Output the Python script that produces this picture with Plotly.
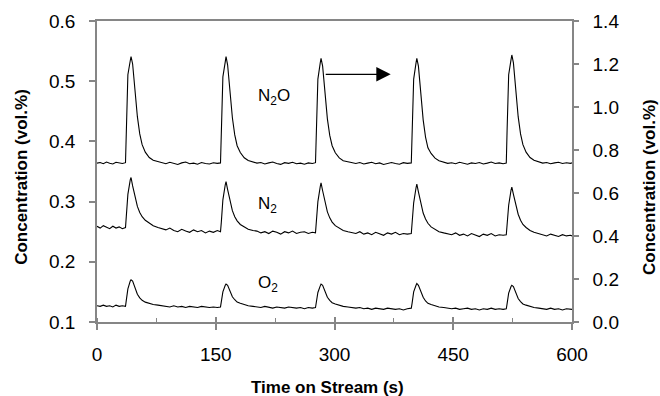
import plotly.graph_objects as go

# ---------------- data ----------------
TIME = [0, 4, 8, 12, 16, 20, 24, 28, 32, 36,
        37, 39, 42, 43, 45, 48, 51, 54, 57, 61, 66, 71, 77,
        82, 87, 92, 97, 102, 107, 112, 117, 122, 127, 132, 137, 142, 147, 152, 156,
        157, 159, 162, 163, 165, 168, 171, 174, 177, 181, 186, 191, 197,
        202, 207, 212, 217, 222, 227, 232, 237, 242, 247, 252, 257, 262, 267, 272, 276,
        277, 279, 282, 283, 285, 288, 291, 294, 297, 301, 306, 311, 317,
        322, 327, 332, 337, 342, 347, 352, 357, 362, 367, 372, 377, 382, 387, 392, 397,
        398, 400, 403, 404, 406, 409, 412, 415, 418, 422, 427, 432, 438,
        443, 448, 453, 458, 463, 468, 473, 478, 483, 488, 493, 498, 503, 508, 513, 517,
        518, 520, 523, 524, 526, 529, 532, 535, 538, 542, 547, 552, 558,
        563, 568, 573, 578, 583, 588, 593, 598, 600]

# N2O, right axis (vol.%)
N2O = [0.739, 0.742, 0.736, 0.744, 0.738, 0.735, 0.743, 0.740, 0.737, 0.741,
       0.90, 1.15, 1.215, 1.234, 1.20, 1.065, 0.955, 0.875, 0.825, 0.790, 0.765, 0.752, 0.745,
       0.741, 0.736, 0.743, 0.738, 0.733, 0.740, 0.744, 0.736, 0.739, 0.734, 0.742, 0.737, 0.735, 0.741, 0.738, 0.740,
       0.89, 1.14, 1.21, 1.234, 1.195, 1.06, 0.95, 0.87, 0.82, 0.788, 0.764, 0.751, 0.744,
       0.739, 0.742, 0.735, 0.740, 0.744, 0.737, 0.733, 0.741, 0.738, 0.743, 0.736, 0.739, 0.734, 0.740, 0.737, 0.741,
       0.88, 1.13, 1.205, 1.226, 1.19, 1.055, 0.945, 0.868, 0.82, 0.787, 0.763, 0.750, 0.744,
       0.740, 0.737, 0.742, 0.735, 0.739, 0.743, 0.736, 0.740, 0.733, 0.738, 0.742, 0.737, 0.734, 0.741, 0.738, 0.740,
       0.88, 1.13, 1.205, 1.226, 1.19, 1.05, 0.94, 0.86, 0.81, 0.784, 0.762, 0.750, 0.744,
       0.738, 0.741, 0.736, 0.743, 0.739, 0.734, 0.740, 0.737, 0.742, 0.735, 0.739, 0.744, 0.737, 0.740, 0.736, 0.739,
       0.89, 1.15, 1.22, 1.242, 1.205, 1.07, 0.955, 0.875, 0.825, 0.790, 0.765, 0.752, 0.745,
       0.739, 0.742, 0.736, 0.740, 0.743, 0.737, 0.741, 0.738, 0.740]

# N2, left axis (vol.%)
N2 = [0.259, 0.256, 0.260, 0.257, 0.255, 0.259, 0.256, 0.258, 0.255, 0.257,
      0.272, 0.312, 0.336, 0.340, 0.326, 0.307, 0.292, 0.282, 0.275, 0.269, 0.264, 0.260, 0.257,
      0.255, 0.253, 0.256, 0.252, 0.250, 0.254, 0.251, 0.249, 0.253, 0.250, 0.252, 0.248, 0.251, 0.249, 0.252, 0.250,
      0.265, 0.303, 0.328, 0.333, 0.320, 0.300, 0.285, 0.275, 0.268, 0.262, 0.258, 0.254, 0.252,
      0.251, 0.248, 0.250, 0.247, 0.251, 0.249, 0.246, 0.250, 0.248, 0.251, 0.247, 0.249, 0.250, 0.247, 0.249, 0.248,
      0.263, 0.300, 0.325, 0.331, 0.318, 0.298, 0.283, 0.273, 0.266, 0.260, 0.256, 0.252, 0.250,
      0.249, 0.247, 0.250, 0.246, 0.248, 0.245, 0.249, 0.247, 0.244, 0.248, 0.246, 0.249, 0.245, 0.247, 0.246, 0.247,
      0.261, 0.298, 0.323, 0.329, 0.316, 0.296, 0.281, 0.271, 0.264, 0.258, 0.254, 0.250, 0.248,
      0.247, 0.245, 0.248, 0.244, 0.246, 0.243, 0.247, 0.245, 0.242, 0.246, 0.244, 0.247, 0.243, 0.245, 0.244, 0.245,
      0.259, 0.294, 0.319, 0.324, 0.312, 0.293, 0.279, 0.269, 0.262, 0.257, 0.252, 0.249, 0.247,
      0.245, 0.243, 0.246, 0.244, 0.242, 0.245, 0.243, 0.244, 0.243]

# O2, left axis (vol.%)
O2 = [0.127, 0.126, 0.128, 0.126, 0.127, 0.125, 0.128, 0.126, 0.127, 0.126,
      0.136, 0.155, 0.168, 0.170, 0.168, 0.156, 0.146, 0.140, 0.136, 0.133, 0.131, 0.129, 0.128,
      0.127, 0.126, 0.125, 0.127, 0.125, 0.126, 0.124, 0.126, 0.125, 0.124, 0.126, 0.125, 0.124, 0.125, 0.124, 0.125,
      0.132, 0.150, 0.161, 0.163, 0.161, 0.151, 0.142, 0.137, 0.133, 0.131, 0.129, 0.127, 0.126,
      0.125, 0.124, 0.126, 0.124, 0.123, 0.125, 0.124, 0.123, 0.125, 0.124, 0.123, 0.124, 0.122, 0.124, 0.123, 0.124,
      0.131, 0.149, 0.160, 0.163, 0.161, 0.150, 0.141, 0.136, 0.132, 0.130, 0.128, 0.126, 0.125,
      0.124, 0.123, 0.124, 0.122, 0.123, 0.121, 0.123, 0.122, 0.121, 0.123, 0.122, 0.121, 0.122, 0.120, 0.122, 0.123,
      0.131, 0.150, 0.161, 0.164, 0.161, 0.150, 0.141, 0.135, 0.131, 0.129, 0.127, 0.125, 0.124,
      0.123, 0.122, 0.123, 0.121, 0.122, 0.123, 0.121, 0.122, 0.120, 0.122, 0.121, 0.123, 0.121, 0.122, 0.121, 0.122,
      0.130, 0.148, 0.159, 0.161, 0.159, 0.148, 0.139, 0.134, 0.130, 0.128, 0.126, 0.124, 0.123,
      0.122, 0.121, 0.123, 0.121, 0.122, 0.120, 0.122, 0.121, 0.121]

assert len(TIME) == len(N2O) == len(N2) == len(O2), (len(TIME), len(N2O), len(N2), len(O2))

X_RANGE = [0, 600]
Y_LEFT_RANGE = [0.1, 0.6]
Y_RIGHT_RANGE = [0.0, 1.4]

# ---------------- figure ----------------
FONT = "Liberation Sans, Arial, sans-serif"
AXIS_GRAY = "#868686"

fig = go.Figure()
line_style = dict(color="black", width=1.1)
fig.add_trace(go.Scatter(x=TIME, y=N2O, yaxis="y2", mode="lines", line=line_style,
                         name="N2O", hoverinfo="skip"))
fig.add_trace(go.Scatter(x=TIME, y=N2, mode="lines", line=line_style, name="N2", hoverinfo="skip"))
fig.add_trace(go.Scatter(x=TIME, y=O2, mode="lines", line=line_style, name="O2", hoverinfo="skip"))
# invisible helper trace so that the overlay x-axis (inner half of crossing ticks) is drawn
fig.add_trace(go.Scatter(x=TIME, y=O2, xaxis="x2", mode="lines",
                         line=dict(width=0, color="rgba(0,0,0,0)"), hoverinfo="skip", showlegend=False))

tick_font = dict(family=FONT, size=19, color="black")

fig.update_layout(
    width=660, height=396,
    margin=dict(l=97, r=88, t=21, b=74),
    paper_bgcolor="white", plot_bgcolor="white",
    showlegend=False,
    xaxis=dict(range=X_RANGE, tick0=0, dtick=150, ticks="outside", ticklen=6, tickwidth=1.5,
               tickcolor=AXIS_GRAY, showline=True, linecolor=AXIS_GRAY, linewidth=1.5, mirror=True,
               showgrid=False, zeroline=False, tickfont=tick_font, ticklabelstandoff=8,
               minor=dict(ticks="inside", ticklen=4, tick0=0, dtick=75, tickwidth=1.2,
                          tickcolor=AXIS_GRAY, showgrid=False)),
    xaxis2=dict(range=X_RANGE, overlaying="x", anchor="y", side="bottom", tick0=0, dtick=150,
                ticks="inside", ticklen=5, tickwidth=1.5, tickcolor=AXIS_GRAY,
                showticklabels=False, showline=False, showgrid=False, zeroline=False),
    yaxis=dict(range=Y_LEFT_RANGE, tick0=0.1, dtick=0.1, tickformat=".1f", ticks="outside",
               ticklen=6, tickwidth=1.5, tickcolor=AXIS_GRAY, showline=True, linecolor=AXIS_GRAY,
               linewidth=1.5, showgrid=False, zeroline=False, tickfont=tick_font, ticklabelstandoff=10),
    yaxis2=dict(range=Y_RIGHT_RANGE, overlaying="y", side="right", tick0=0, dtick=0.2,
                tickformat=".1f", ticks="outside", ticklen=5, tickwidth=1.5, tickcolor=AXIS_GRAY,
                showline=True, linecolor=AXIS_GRAY, linewidth=1.5, showgrid=False, zeroline=False,
                tickfont=tick_font, ticklabelstandoff=10),
)

label_font = dict(family=FONT, size=17, color="black")
title_font = dict(family=FONT, size=17, color="black")

annotations = [
    dict(x=201, y=0.473, xref="x", yref="y", text="N<sub>2</sub>O", showarrow=False,
         xanchor="left", yanchor="middle", font=label_font),
    dict(x=201, y=0.294, xref="x", yref="y", text="N<sub>2</sub>", showarrow=False,
         xanchor="left", yanchor="middle", font=label_font),
    dict(x=201, y=0.163, xref="x", yref="y", text="O<sub>2</sub>", showarrow=False,
         xanchor="left", yanchor="middle", font=label_font),
    # arrow pointing to the right axis (N2O scale)
    dict(x=371, y=0.5115, xref="x", yref="y", ax=287, ay=0.5115, axref="x", ayref="y",
         text="", showarrow=True, arrowhead=2, arrowsize=2.4, arrowwidth=1.2, arrowcolor="black",
         standoff=0, startstandoff=0),
    # axis titles
    dict(x=-0.158, y=0.482, xref="paper", yref="paper", text="<b>Concentration (vol.%)</b>",
         textangle=-90, showarrow=False, xanchor="center", yanchor="middle", font=title_font),
    dict(x=1.162, y=0.4485, xref="paper", yref="paper", text="<b>Concentration (vol.%)</b>",
         textangle=-90, showarrow=False, xanchor="center", yanchor="middle", font=title_font),
    dict(x=0.4846, y=-0.219, xref="paper", yref="paper", text="<b>Time on Stream (s)</b>",
         showarrow=False, xanchor="center", yanchor="middle", font=title_font),
]
fig.update_layout(annotations=annotations)

fig.write_html("out.html")
